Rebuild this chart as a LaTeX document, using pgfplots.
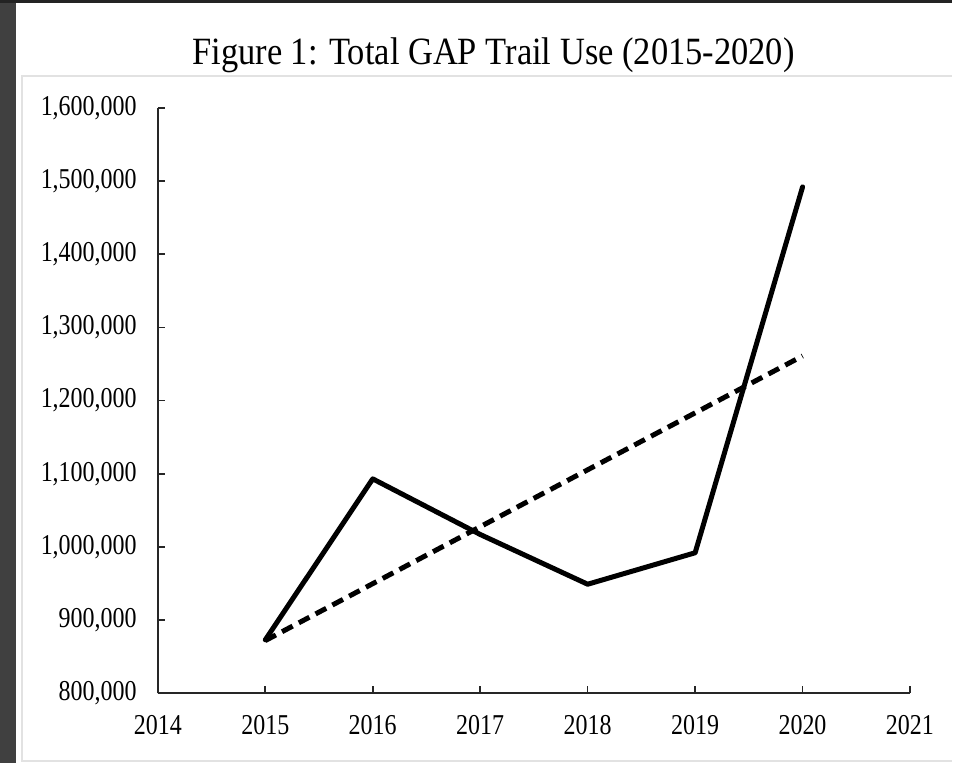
\documentclass[border=0pt]{standalone}
\usepackage{pgfplots}
\pgfplotsset{compat=1.18}
\usepackage{graphicx}
\usepackage{fontspec}
\setmainfont{Liberation Serif}

\definecolor{frame}{HTML}{404040}
\definecolor{topbar}{HTML}{232323}
\definecolor{boxline}{HTML}{E2E2E2}

\begin{document}
\begin{tikzpicture}[x=1bp,y=1bp]
% page background like the screenshot
\fill[topbar] (0,0) rectangle (953,764);
\fill[frame] (0,0) rectangle (16,761);
\fill[white] (16,0) rectangle (953,761);
\draw[boxline, line width=2bp] (953,688) -- (22,688) -- (22,2) -- (953,2);
\path[use as bounding box] (0,0) rectangle (953,764);

\node[anchor=base, inner sep=0pt] at (494,699)
  {\scalebox{1}[1.12]{\fontsize{34.5bp}{40bp}\selectfont Figure 1: Total GAP Trail Use (2015-2020)}};

\begin{axis}[
    at={(158bp,70bp)}, anchor=south west,
    scale only axis, width=753bp, height=586bp,
    xmin=2014, xmax=2021, ymin=800000, ymax=1600000,
    axis x line*=bottom, axis y line*=left,
    axis line style={line width=1.6bp, black!85},
    tick align=inside, major tick length=7bp,
    tick style={line width=1.6bp, black!85},
    xtick={2014,...,2021},
    ytick={800000,900000,...,1600000},
    scaled y ticks=false,
    xticklabel={\scalebox{1}[1.2]{\pgfmathprintnumber[1000 sep={}]{\tick}}},
    yticklabel={\scalebox{1}[1.2]{\pgfmathprintnumber[fixed,1000 sep={,}]{\tick}}},
    /pgf/number format/assume math mode=true,
    ticklabel style={font=\fontsize{24bp}{28bp}\selectfont, inner sep=0pt},
    yticklabel style={xshift=-21bp},
    xticklabel style={yshift=-22bp},
    clip=false,
]
\addplot[black, line width=5bp, line join=round, line cap=round]
  coordinates {(2015,873000) (2016,1093000) (2017,1017000) (2018,949000) (2019,992000) (2020,1492000)};
\addplot[black, line width=5bp, dash pattern=on 12bp off 7bp]
  coordinates {(2015,872000) (2020,1261000)};
\end{axis}
\end{tikzpicture}
\end{document}
